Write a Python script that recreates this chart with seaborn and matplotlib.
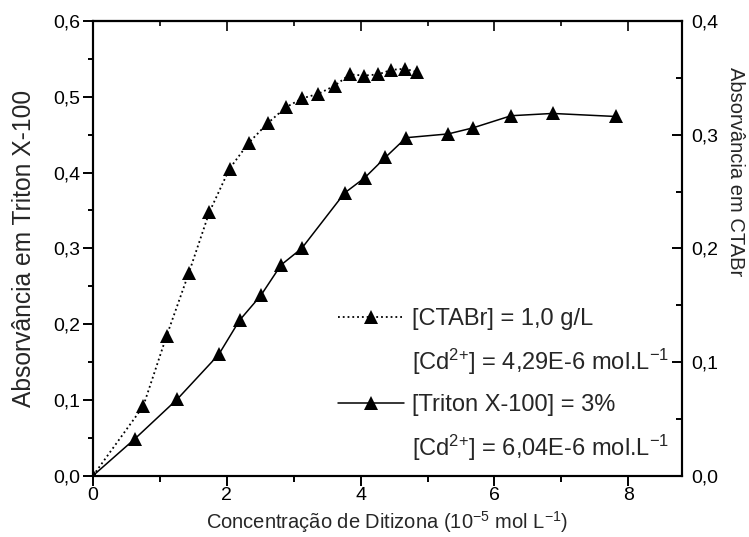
import matplotlib
matplotlib.use("Agg")
import matplotlib.pyplot as plt
from matplotlib.lines import Line2D
from matplotlib.ticker import FuncFormatter, MultipleLocator
import pandas as pd
import seaborn as sns

# Dithizone concentration (10^-5 mol/L) vs absorbance in Triton X-100 (left axis)
triton_x = [0, 0.63, 1.26, 1.88, 2.19, 2.51, 2.81, 3.12, 3.76, 4.06, 4.37,
            4.68, 5.31, 5.68, 6.25, 6.87, 7.81]
triton_abs = [0, 0.049, 0.101, 0.160, 0.205, 0.238, 0.278, 0.300, 0.373,
              0.393, 0.420, 0.446, 0.451, 0.459, 0.475, 0.478, 0.474]

# Dithizone concentration vs absorbance in CTABr (right axis)
ctab_x = [0, 0.75, 1.10, 1.43, 1.74, 2.04, 2.33, 2.61, 2.88, 3.13, 3.37,
          3.61, 3.84, 4.05, 4.26, 4.46, 4.66, 4.85]
ctab_abs = [0, 0.061, 0.123, 0.178, 0.232, 0.270, 0.293, 0.310, 0.324,
            0.332, 0.336, 0.343, 0.353, 0.352, 0.353, 0.357, 0.358, 0.355]

legend_labels = [
    "[CTABr] = 1,0 g/L",
    r"[Cd$^{2{+}}$] = 4,29E-6 mol.L$^{{-}1}$",
    "[Triton X-100] = 3%",
    r"[Cd$^{2{+}}$] = 6,04E-6 mol.L$^{{-}1}$",
]
x_label = r"Concentração de Ditizona (10$^{{-}5}$ mol L$^{{-}1}$)"
y_left_label = "Absorvância em Triton X-100"
y_right_label = "Absorvância em CTABr"
x_ticks = [0, 2, 4, 6, 8]

sns.set_theme(style="ticks")
plt.rcParams["font.family"] = ["Liberation Sans", "DejaVu Sans"]
plt.rcParams["mathtext.fontset"] = "custom"
plt.rcParams["mathtext.rm"] = "Liberation Sans"
plt.rcParams["mathtext.it"] = "Liberation Sans"
plt.rcParams["mathtext.default"] = "regular"

triton_df = pd.DataFrame({"x": triton_x, "y": triton_abs})
ctab_df = pd.DataFrame({"x": ctab_x, "y": ctab_abs})

fig = plt.figure(figsize=(7.49, 5.37), dpi=100)
ax = fig.add_axes([0.1242, 0.1142, 0.786, 0.8467])
ax2 = ax.twinx()

style = dict(color="black", marker="^", markersize=9.5, markeredgewidth=0,
             sort=False, estimator=None, legend=False)
sns.lineplot(data=triton_df, x="x", y="y", ax=ax, linestyle="-",
             linewidth=1.1, **style)
sns.lineplot(data=ctab_df, x="x", y="y", ax=ax2, linestyle=":",
             linewidth=1.3, **style)

comma = FuncFormatter(lambda v, p: f"{v:.1f}".replace(".", ","))

ax.set_xlim(0, 8.8)
ax.set_ylim(0, 0.6)
ax2.set_ylim(0, 0.4)
ax.set_xticks(x_ticks)
ax.xaxis.set_minor_locator(MultipleLocator(1))
ax.yaxis.set_major_locator(MultipleLocator(0.1))
ax.yaxis.set_minor_locator(MultipleLocator(0.05))
ax.yaxis.set_major_formatter(comma)
ax2.yaxis.set_major_locator(MultipleLocator(0.1))
ax2.yaxis.set_minor_locator(MultipleLocator(0.05))
ax2.yaxis.set_major_formatter(comma)

for a in (ax, ax2):
    for s in a.spines.values():
        s.set_linewidth(1.5)
        s.set_color("black")
        s.set_visible(True)

ax.tick_params(axis="x", which="both", direction="out", top=False,
               labelsize=14, width=1.4, pad=1, colors="black")
ax.tick_params(axis="x", which="major", length=7)
ax.tick_params(axis="x", which="minor", length=4.3)
ax.tick_params(axis="y", which="both", direction="out", right=False,
               labelsize=14, width=1.4, pad=2, colors="black")
ax.tick_params(axis="y", which="major", length=7)
ax.tick_params(axis="y", which="minor", length=3.6)
ax2.tick_params(axis="y", which="both", direction="in", left=False,
                labelsize=14, width=1.4, pad=7, colors="black")
ax2.tick_params(axis="y", which="major", length=7)
ax2.tick_params(axis="y", which="minor", length=4.3)

# Mirror ticks on the top edge, pointing into the plot
top = ax.secondary_xaxis("top")
top.set_xticks(x_ticks)
top.xaxis.set_minor_locator(MultipleLocator(1))
top.tick_params(axis="x", which="both", direction="in", labeltop=False,
                width=1.4)
top.tick_params(axis="x", which="major", length=7)
top.tick_params(axis="x", which="minor", length=3.6)
top.spines["top"].set_linewidth(1.5)

ax.set_xlabel(x_label, fontsize=14.5, va="center")
ax.xaxis.set_label_coords(0.5, -0.102)
ax.set_ylabel(y_left_label, fontsize=17.7, va="center")
ax.yaxis.set_label_coords(-0.117, 0.5)
ax2.set_ylabel(y_right_label, fontsize=14.5, rotation=-90, va="center")
ax2.yaxis.set_label_coords(1.092, 0.668)

blank = Line2D([], [], linestyle="none")
h_ctab = Line2D([], [], color="black", linestyle=":", linewidth=1.3,
                marker="^", markersize=9.5, markeredgewidth=0)
h_triton = Line2D([], [], color="black", linestyle="-", linewidth=1.1,
                  marker="^", markersize=9.5, markeredgewidth=0)
ax.legend([h_ctab, blank, h_triton, blank], legend_labels,
          loc="center left", bbox_to_anchor=(0.416, 0.198), frameon=False,
          fontsize=17, handlelength=2.8, handletextpad=0.35,
          borderpad=0, borderaxespad=0, labelspacing=0.72, numpoints=1)

fig.savefig("out.png", dpi=100)
